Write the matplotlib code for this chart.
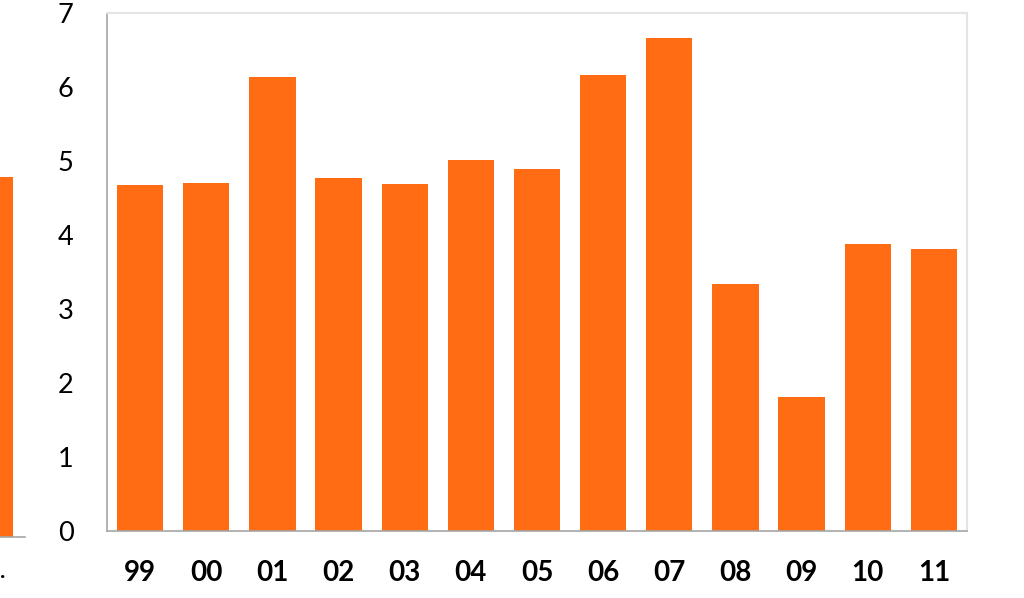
import matplotlib
matplotlib.use("Agg")
import matplotlib.pyplot as plt

years = ["99", "00", "01", "02", "03", "04", "05", "06", "07", "08", "09", "10", "11"]
values = [4.68, 4.71, 6.14, 4.77, 4.69, 5.02, 4.89, 6.17, 6.67, 3.34, 1.81, 3.88, 3.81]
left_panel_values = [4.87]
y_ticks = [0, 1, 2, 3, 4, 5, 6, 7]

BAR = "#FF6C14"
W, H = 1024, 598

fig = plt.figure(figsize=(W / 100, H / 100), dpi=100)
plt.rcParams['font.family'] = ['Lato', 'DejaVu Sans']

# main axes
ax = fig.add_axes([107 / W, (H - 530.7) / H, 860 / W, 517.4 / H])
ax.bar(range(len(values)), values, width=0.7, color=BAR, zorder=2)
ax.set_xlim(-0.5, len(values) - 0.5)
ax.set_ylim(0, 7)
ax.set_yticks(y_ticks)
ax.set_yticklabels([str(t) for t in y_ticks], fontsize=19.5)
ax.set_xticks(range(len(years)))
ax.set_xticklabels(years, fontsize=20, fontweight="bold")
ax.tick_params(axis="y", length=0, pad=24)
ax.tick_params(axis="x", length=0, pad=21)
for s in ("left", "bottom"):
    ax.spines[s].set_color("#a6a6a6")
    ax.spines[s].set_linewidth(1.2)
for s in ("top", "right"):
    ax.spines[s].set_color("#e4e4e4")
    ax.spines[s].set_linewidth(1.5)

# partial left panel (cut off at figure edge)
ax2 = fig.add_axes([-20 / W, (H - 536.7) / H, 45 / W, 517.4 / H])
ax2.bar([0], left_panel_values, width=33 / 45, align="edge", color=BAR)
ax2.set_xlim(0, 1)
ax2.set_ylim(0, 7)
ax2.set_xticks([])
ax2.set_yticks([])
for s in ("left", "top", "right"):
    ax2.spines[s].set_visible(False)
ax2.spines["bottom"].set_color("#a6a6a6")
ax2.spines["bottom"].set_linewidth(1.2)
fig.text(0 / W, 1 - 578 / H, ".", fontsize=16, fontweight="bold")

fig.savefig("out.png", dpi=100)
